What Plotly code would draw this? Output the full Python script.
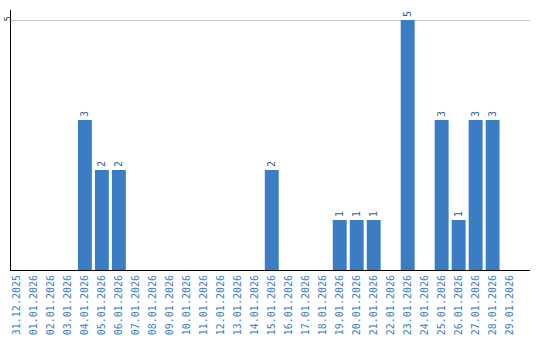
import plotly.graph_objects as go

dates = ["31.12.2025", "01.01.2026", "02.01.2026", "03.01.2026", "04.01.2026", "05.01.2026",
         "06.01.2026", "07.01.2026", "08.01.2026", "09.01.2026", "10.01.2026", "11.01.2026",
         "12.01.2026", "13.01.2026", "14.01.2026", "15.01.2026", "16.01.2026", "17.01.2026",
         "18.01.2026", "19.01.2026", "20.01.2026", "21.01.2026", "22.01.2026", "23.01.2026",
         "24.01.2026", "25.01.2026", "26.01.2026", "27.01.2026", "28.01.2026", "29.01.2026"]
counts = [0, 0, 0, 0, 3, 2, 2, 0, 0, 0, 0, 0, 0, 0, 0, 2, 0, 0, 0, 1, 1, 1, 0, 5, 0, 3, 1, 3, 3, 0]

labels = [str(v) if v > 0 else "" for v in counts]
blue = "#3b7dc4"

fig = go.Figure(go.Bar(
    x=dates, y=counts, text=labels, textposition="outside", textangle=-90,
    textfont=dict(family="DejaVu Sans Mono", size=10, color="#2f5f99"),
    marker=dict(color=blue, line=dict(width=0)), width=0.82, cliponaxis=False,
))
fig.update_layout(
    template="none",
    width=540, height=340, margin=dict(l=11, r=10, t=10, b=70),
    plot_bgcolor="white", paper_bgcolor="white", showlegend=False,
    xaxis=dict(type="category", range=[-0.35, 30.2], tickangle=-90, showgrid=False,
               showline=True, linecolor="black", linewidth=1, ticks="", automargin=False,
               tickfont=dict(family="DejaVu Sans Mono", size=10, color=blue)),
    yaxis=dict(range=[0, 5.2], tickvals=[5], ticktext=["5"], tickangle=-90,
               showgrid=True, gridcolor="#cccccc", gridwidth=1, zeroline=False,
               showline=True, linecolor="black", linewidth=1, ticks="", automargin=False,
               ticklabelstandoff=-4,
               tickfont=dict(family="DejaVu Sans Mono", size=8, color="#333333")),
)
fig.write_html("out.html")
